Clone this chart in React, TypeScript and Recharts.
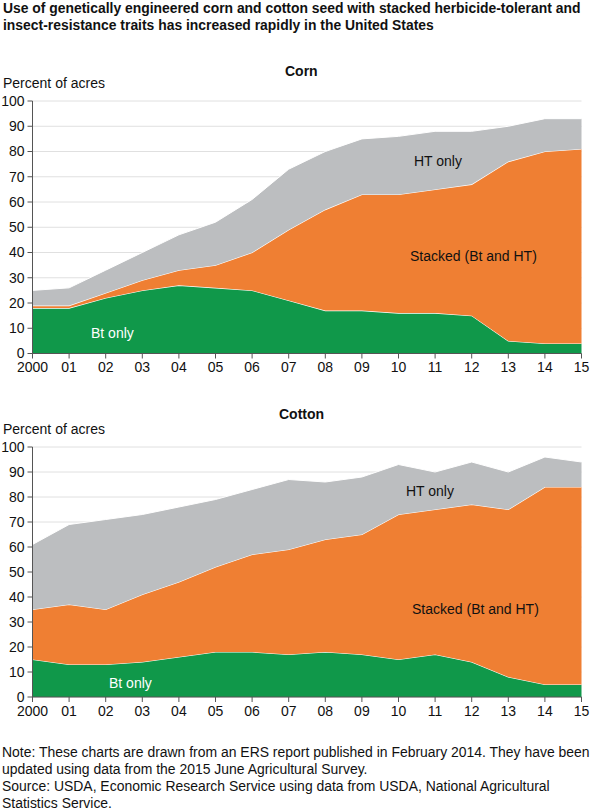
import { AreaChart, Area, XAxis, YAxis, CartesianGrid } from 'recharts';

const years = ['2000', '01', '02', '03', '04', '05', '06', '07', '08', '09', '10', '11', '12', '13', '14', '15'];
const yTicks = [0, 10, 20, 30, 40, 50, 60, 70, 80, 90, 100];

const cornBt = [18, 18, 22, 25, 27, 26, 25, 21, 17, 17, 16, 16, 15, 5, 4, 4];
const cornStacked = [1, 1, 2, 4, 6, 9, 15, 28, 40, 46, 47, 49, 52, 71, 76, 77];
const cornHt = [6, 7, 9, 11, 14, 17, 21, 24, 23, 22, 23, 23, 21, 14, 13, 12];

const cottonBt = [15, 13, 13, 14, 16, 18, 18, 17, 18, 17, 15, 17, 14, 8, 5, 5];
const cottonStacked = [20, 24, 22, 27, 30, 34, 39, 42, 45, 48, 58, 58, 63, 67, 79, 79];
const cottonHt = [26, 32, 36, 32, 30, 27, 26, 28, 23, 23, 20, 15, 17, 15, 12, 10];

const GREEN = '#10984a';
const ORANGE = '#ef7f33';
const GRAY = '#bcbec0';
const FONT = '"Liberation Sans", Arial, sans-serif';

function toRows(bt: number[], stacked: number[], ht: number[]) {
  return years.map((year, i) => ({ year, bt: bt[i], stacked: stacked[i], ht: ht[i] }));
}

interface PanelProps {
  bt: number[];
  stacked: number[];
  ht: number[];
  top: number;
  plotTop: number;
  plotHeight: number;
}

function Panel({ bt, stacked, ht, top, plotTop, plotHeight }: PanelProps) {
  const tick = { fill: '#111', fontSize: 14, fontFamily: FONT };
  const axisLine = { stroke: '#555', strokeWidth: 1 };
  return (
    <div style={{ position: 'absolute', left: 0, top }}>
      <AreaChart
        width={595}
        height={plotTop + plotHeight + 30}
        data={toRows(bt, stacked, ht)}
        margin={{ top: plotTop, right: 13.5, bottom: 0, left: 0 }}
      >
        <CartesianGrid horizontal vertical={false} stroke="#e0e0e0" strokeWidth={1} />
        <XAxis
          dataKey="year"
          interval={0}
          height={30}
          tick={tick}
          tickSize={5}
          tickMargin={4}
          axisLine={axisLine}
          tickLine={axisLine}
        />
        <YAxis
          width={32.5}
          domain={[0, 100]}
          ticks={yTicks}
          interval={0}
          tick={tick}
          tickSize={5}
          tickMargin={3}
          axisLine={axisLine}
          tickLine={axisLine}
        />
        <Area type="linear" dataKey="bt" stackId="a" fill={GREEN} fillOpacity={1} stroke="#fff" strokeWidth={1.2} isAnimationActive={false} />
        <Area type="linear" dataKey="stacked" stackId="a" fill={ORANGE} fillOpacity={1} stroke="#fff" strokeWidth={1.2} isAnimationActive={false} />
        <Area type="linear" dataKey="ht" stackId="a" fill={GRAY} fillOpacity={1} stroke="#fff" strokeWidth={1} isAnimationActive={false} />
      </AreaChart>
    </div>
  );
}

function Label({ x, y, color = '#111', bold = false, children }: { x: number; y: number; color?: string; bold?: boolean; children: string }) {
  return (
    <div style={{ position: 'absolute', left: x, top: y, color, fontSize: 14, lineHeight: '16px', fontWeight: bold ? 700 : 400, whiteSpace: 'nowrap' }}>
      {children}
    </div>
  );
}

export default function App() {
  return (
    <div style={{ position: 'absolute', left: 0, top: 0, width: 595, height: 812, overflow: 'hidden', background: '#fff', fontFamily: FONT }}>
      <div style={{ position: 'absolute', left: 3, top: 0, fontSize: 13.9, lineHeight: '17px', fontWeight: 700, color: '#111', whiteSpace: 'nowrap' }}>
        Use of genetically engineered corn and cotton seed with stacked herbicide-tolerant and
        <br />
        insect-resistance traits has increased rapidly in the United States
      </div>

      <Panel bt={cornBt} stacked={cornStacked} ht={cornHt} top={0} plotTop={101} plotHeight={252.5} />
      <Panel bt={cottonBt} stacked={cottonStacked} ht={cottonHt} top={400} plotTop={47} plotHeight={250} />

      <Label x={285} y={63} bold>Corn</Label>
      <Label x={3} y={75}>Percent of acres</Label>
      <Label x={91} y={325} color="#fff">Bt only</Label>
      <Label x={414} y={153}>HT only</Label>
      <Label x={410} y={248}>Stacked (Bt and HT)</Label>

      <Label x={279} y={406} bold>Cotton</Label>
      <Label x={3} y={421}>Percent of acres</Label>
      <Label x={109} y={675} color="#fff">Bt only</Label>
      <Label x={406} y={483}>HT only</Label>
      <Label x={412} y={601}>Stacked (Bt and HT)</Label>

      <div style={{ position: 'absolute', left: 2, top: 744, fontSize: 13.95, lineHeight: '17px', color: '#111', whiteSpace: 'nowrap' }}>
        Note: These charts are drawn from an ERS report published in February 2014. They have been
        <br />
        updated using data from the 2015 June Agricultural Survey.
        <br />
        Source: USDA, Economic Research Service using data from USDA, National Agricultural
        <br />
        Statistics Service.
      </div>
    </div>
  );
}
